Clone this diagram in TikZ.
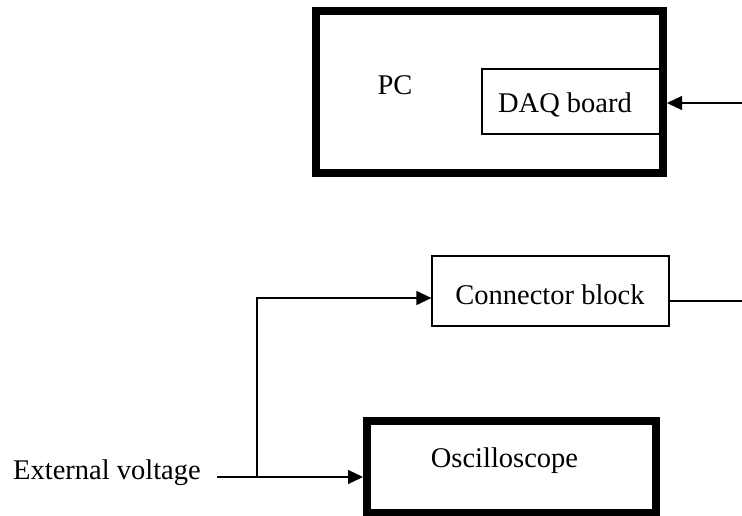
\documentclass[tikz,border=0pt]{standalone}
\usepackage{fontspec}
\setmainfont{Liberation Serif}
\usetikzlibrary{arrows.meta}
\begin{document}
\begin{tikzpicture}[x=1pt,y=-1pt,
  thickbox/.style={draw,line width=8pt,inner sep=0pt},
  thinbox/.style={draw,line width=1.3pt,inner sep=0pt},
  lbl/.style={inner sep=0pt,anchor=base,font=\fontsize{28.5}{34}\selectfont},
  wire/.style={line width=1.3pt},
  arr/.style={wire,-{Triangle[length=15pt,width=14pt]}}]
\useasboundingbox (0,0) rectangle (742,516);
% boxes
\node[thinbox,minimum width=178pt,minimum height=65pt] (daq) at (571,101.5) {};
\node[thickbox,minimum width=347pt,minimum height=162pt] (pc) at (489.5,92) {};
\node[thinbox,minimum width=237pt,minimum height=70pt] (conn) at (550.5,291) {};
\node[thickbox,minimum width=289pt,minimum height=92pt] (osc) at (511.5,467) {};
% texts
\node[lbl] (pctext) at (395,95) {PC};
\node[lbl] (daqtext) at (565,113) {DAQ board};
\node[lbl] (conntext) at (550,304) {Connector block};
\node[lbl] (osctext) at (504.5,467) {Oscilloscope};
\node[lbl,anchor=base west] (evtext) at (13,479) {External voltage};
% connectors
\coordinate (din) at (742,103);
\coordinate (cout) at (742,301);
\coordinate (ev) at (217,477);
\coordinate (j) at (257,477);
\coordinate (cin) at (257,298);
\draw[arr] (din) -- (din -| pc.east);
\draw[wire] (conn.east |- cout) -- (cout);
\draw[arr] (ev) -- (ev -| osc.west);
\draw[arr] (j) -- (cin) -- (cin -| conn.west);
\end{tikzpicture}
\end{document}
